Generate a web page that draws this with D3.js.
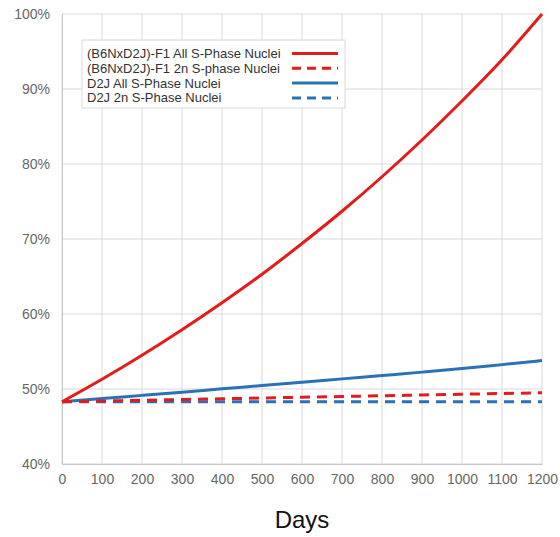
<!DOCTYPE html>
<html>
<head>
<meta charset="utf-8">
<script src="https://cdn.jsdelivr.net/npm/d3@7"></script>
<style>
  body { margin: 0; background: #fff; }
  svg { font-family: "Liberation Sans", Arial, sans-serif; }
</style>
</head>
<body>
<svg id="chart" width="560" height="537"></svg>
<script>
// days on x axis
var days = [0, 100, 200, 300, 400, 500, 600, 700, 800, 900, 1000, 1100, 1200];

// percent values
var f1All = [48.3, 51.3, 54.5, 57.9, 61.5, 65.3, 69.4, 73.7, 78.3, 83.2, 88.4, 93.9, 100];
var f1TwoN = [48.3, 48.4, 48.5, 48.6, 48.7, 48.8, 48.9, 49.0, 49.1, 49.2, 49.3, 49.4, 49.5];
var d2jAll = [48.3, 48.72, 49.15, 49.58, 50.02, 50.46, 50.9, 51.35, 51.8, 52.25, 52.72, 53.25, 53.8];
var d2jTwoN = [48.3, 48.3, 48.3, 48.3, 48.3, 48.3, 48.3, 48.3, 48.3, 48.3, 48.3, 48.3, 48.3];

var seriesNames = ["(B6NxD2J)-F1 All S-Phase Nuclei", "(B6NxD2J)-F1 2n S-phase Nuclei",
                   "D2J All S-Phase Nuclei", "D2J 2n S-Phase Nuclei"];

var xTicks = [0, 100, 200, 300, 400, 500, 600, 700, 800, 900, 1000, 1100, 1200];
var yTicks = [40, 50, 60, 70, 80, 90, 100];

var red = "#e41b1b", blue = "#2a72b5";
var series = [
  { name: seriesNames[0], values: f1All, color: red, dash: null },
  { name: seriesNames[1], values: f1TwoN, color: red, dash: "10,7" },
  { name: seriesNames[2], values: d2jAll, color: blue, dash: null },
  { name: seriesNames[3], values: d2jTwoN, color: blue, dash: "10,7" }
];

var svg = d3.select("#chart");
var x = d3.scaleLinear().domain([0, 1200]).range([62, 542]);
var y = d3.scaleLinear().domain([40, 100]).range([464, 14]);

// grid
var grid = svg.append("g");
grid.selectAll(".vg").data(xTicks).enter().append("line")
  .attr("x1", d => x(d)).attr("x2", d => x(d))
  .attr("y1", y(40)).attr("y2", y(100))
  .attr("stroke", "#d9d9d9").attr("stroke-width", 1);
grid.selectAll(".hg").data(yTicks).enter().append("line")
  .attr("x1", x(0)).attr("x2", x(1200))
  .attr("y1", d => y(d)).attr("y2", d => y(d))
  .attr("stroke", "#d9d9d9").attr("stroke-width", 1);

// axes
var xAxis = svg.append("g").attr("transform", "translate(0," + y(40) + ")")
  .call(d3.axisBottom(x).tickValues(xTicks).tickSize(0).tickPadding(10).tickFormat(d3.format("d")));
var yAxis = svg.append("g").attr("transform", "translate(" + x(0) + ",0)")
  .call(d3.axisLeft(y).tickValues(yTicks).tickSize(0).tickPadding(12).tickFormat(d => d + "%"));
[xAxis, yAxis].forEach(function(a) {
  a.select(".domain").attr("stroke", "#c8c8c8");
  a.selectAll("text").attr("fill", "#666").style("font-size", "14px")
    .style("font-family", "'Liberation Sans', Arial, sans-serif");
});

// lines
var line = d3.line().x((d, i) => x(days[i])).y(d => y(d)).curve(d3.curveMonotoneX);
svg.append("g").selectAll("path").data(series.slice().reverse()).enter().append("path")
  .attr("d", d => line(d.values))
  .attr("fill", "none")
  .attr("stroke", d => d.color)
  .attr("stroke-width", 3)
  .attr("stroke-dasharray", d => d.dash);

// legend
var legend = svg.append("g");
legend.append("rect").attr("x", 82).attr("y", 40).attr("width", 263).attr("height", 68)
  .attr("fill", "#fff").attr("stroke", "#d9d9d9");
var items = legend.selectAll(".item").data(series).enter().append("g")
  .attr("transform", (d, i) => "translate(0," + (53.5 + i * 14.8) + ")");
items.append("text").attr("x", 87).attr("y", 0).attr("dy", "0.35em")
  .attr("fill", "#333").style("font-size", "13px").text(d => d.name);
items.append("line").attr("x1", 292).attr("x2", 338).attr("y1", 0).attr("y2", 0)
  .attr("stroke", d => d.color).attr("stroke-width", 3)
  .attr("stroke-dasharray", d => d.dash ? "9,6" : null);

// x title
svg.append("text").attr("x", 302).attr("y", 528).attr("text-anchor", "middle")
  .attr("fill", "#111").style("font-size", "24px").text("Days");
</script>
</body>
</html>
